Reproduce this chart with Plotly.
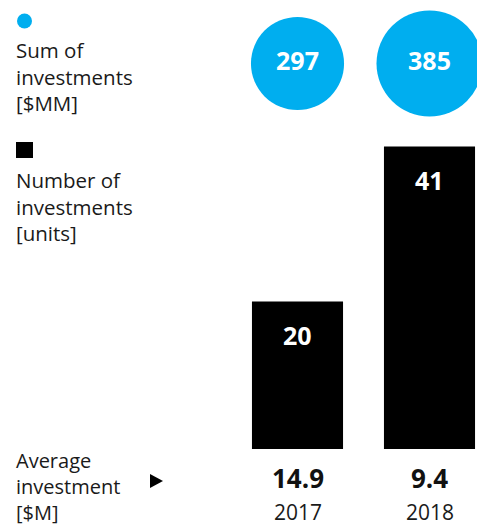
import math
import plotly.graph_objects as go

# Data
years = ["2017", "2018"]
sum_investments = [297, 385]      # $MM
num_investments = [20, 41]        # units
avg_investment = [14.9, 9.4]      # $M

BLUE = "#00AEEF"
W, H = 477, 525
FONT = "Open Sans"
TEXT = "#1a1a1a"

xpos = list(range(len(years)))


def px_x(px):
    return px / W


def px_y(py):
    return 1 - py / H


fig = go.Figure()

# Number of investments: black bars
fig.add_trace(go.Bar(
    x=xpos, y=num_investments, width=0.69,
    marker=dict(color="black", line=dict(width=0)),
    hoverinfo="skip",
))

# Sum of investments: area-scaled circles
max_d = 106
sizes = [max_d * math.sqrt(v / max(sum_investments)) for v in sum_investments]
fig.add_trace(go.Scatter(
    x=xpos, y=[px_y(63.5)] * len(xpos), yaxis="y2",
    mode="markers+text",
    marker=dict(size=sizes, color=BLUE, line=dict(width=0), opacity=1),
    text=[f"<b>{v}</b>" for v in sum_investments],
    textposition="middle center",
    textfont=dict(color="white", size=25, family=FONT),
    cliponaxis=False, hoverinfo="skip",
))

annotations = []

# Bar value labels near the top of each bar
for x, v in zip(xpos, num_investments):
    annotations.append(dict(
        x=x, y=v, xref="x", yref="y", yshift=-34,
        text=f"<b>{v}</b>", showarrow=False,
        font=dict(color="white", size=25, family=FONT),
        xanchor="center", yanchor="middle",
    ))

# Average investment and year labels under the bars
for x, a, yr in zip(xpos, avg_investment, years):
    annotations.append(dict(
        x=x, y=px_y(478), xref="x", yref="paper",
        text=f"<b>{a}</b>", showarrow=False,
        font=dict(color="#111111", size=26, family=FONT),
        xanchor="center", yanchor="middle",
    ))
    annotations.append(dict(
        x=x, y=px_y(512), xref="x", yref="paper",
        text=yr, showarrow=False, borderpad=0,
        font=dict(color=TEXT, size=21, family=FONT),
        xanchor="center", yanchor="middle",
    ))

# Row captions on the left
captions = [
    ("Sum of<br>investments<br>[$MM]", 76, 20.5),
    ("Number of<br>investments<br>[units]", 206, 20.5),
    ("Average<br>investment<br>[$M]", 486, 20),
]
for txt, cy, fs in captions:
    annotations.append(dict(
        x=px_x(15), y=px_y(cy), xref="paper", yref="paper",
        text=txt, showarrow=False, align="left", borderpad=0,
        font=dict(color=TEXT, size=fs, family=FONT),
        xanchor="left", yanchor="middle",
    ))

shapes = [
    # legend glyphs
    dict(type="circle", xref="paper", yref="paper",
         x0=px_x(17), x1=px_x(32), y0=px_y(28.5), y1=px_y(13.5),
         fillcolor=BLUE, line=dict(width=0)),
    dict(type="rect", xref="paper", yref="paper",
         x0=px_x(16), x1=px_x(33), y0=px_y(158), y1=px_y(142),
         fillcolor="black", line=dict(width=0)),
    dict(type="path", xref="paper", yref="paper",
         path=(f"M {px_x(150)} {px_y(474)} L {px_x(163)} {px_y(481)} "
               f"L {px_x(150)} {px_y(488)} Z"),
         fillcolor="black", line=dict(width=0)),
]

k = 7.38  # px per unit on the bar axis
baseline_px = 449
fig.update_layout(
    width=W, height=H,
    margin=dict(l=0, r=0, t=0, b=0),
    paper_bgcolor="white", plot_bgcolor="white",
    showlegend=False,
    xaxis=dict(range=[-297.5 / 132, (W - 297.5) / 132], visible=False, fixedrange=True),
    yaxis=dict(range=[-(H - baseline_px) / k, baseline_px / k], visible=False, fixedrange=True),
    yaxis2=dict(range=[0, 1], overlaying="y", visible=False, fixedrange=True),
    annotations=annotations,
    shapes=shapes,
    font=dict(family=FONT),
)

fig.write_html("out.html")
